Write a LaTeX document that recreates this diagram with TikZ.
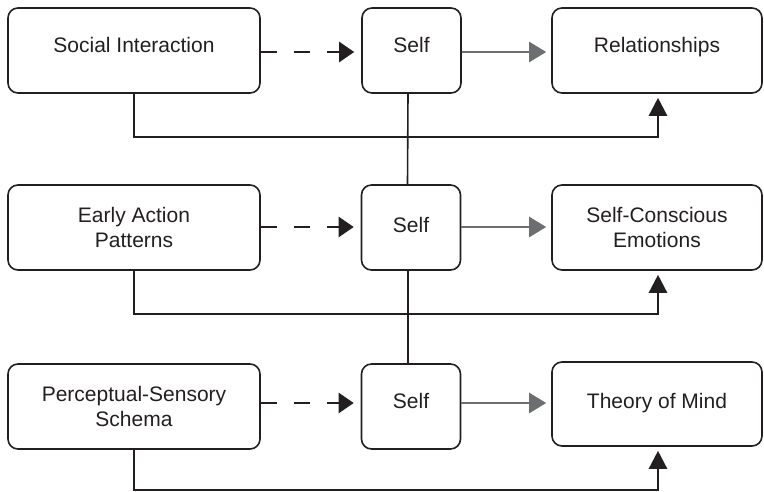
\documentclass[tikz,border=0pt]{standalone}
\usepackage{fontspec}
\setmainfont{Liberation Sans}
\usetikzlibrary{arrows.meta}
\definecolor{ink}{HTML}{231F20}
\definecolor{arrowgray}{HTML}{6D6E71}
\begin{document}
\begin{tikzpicture}[x=1pt,y=-1pt,
  box/.style={draw=ink, line width=1.6pt, rounded corners=10pt, text=ink,
    font=\fontsize{21}{25}\selectfont, inner sep=0pt, minimum height=85pt},
  widebox/.style={box, minimum width=252pt},
  selfbox/.style={box, minimum width=99pt},
  outbox/.style={box, minimum width=210pt},
  oneline/.style={text height=15pt, text depth=#1},
  dasharrow/.style={draw=ink, line width=2.5pt, dash pattern=on 16pt off 17pt,
    -{Triangle[length=15pt,width=20pt]}, shorten >=7pt},
  grayarrow/.style={draw=arrowgray, line width=2.5pt,
    -{Triangle[length=17pt,width=20pt]}, shorten >=5pt},
  uparrow/.style={draw=ink, line width=2.5pt,
    -{Triangle[length=18pt,width=18pt]}, shorten >=4pt},
  selflink/.style={draw=ink, line width=1.6pt}
]
\useasboundingbox (0,0) rectangle (764,492);

% top row
\node[widebox, oneline=10pt] (si) at (134,50.5) {Social Interaction};
\node[selfbox, oneline=10pt] (s1) at (411.5,50.5) {Self};
\node[outbox, oneline=10pt] (rel) at (657,50.5) {Relationships};

% middle row
\node[widebox, align=center] (eap) at (134,227.5) {Early Action\\Patterns};
\node[selfbox, oneline=5pt] (s2) at (411,227.5) {Self};
\node[outbox, align=center] (sce) at (657,227.5) {Self-Conscious\\Emotions};

% bottom row
\node[widebox, align=center] (pss) at (134,406.5) {Perceptual-Sensory\\Schema};
\node[selfbox, oneline=12pt] (s3) at (411,406.5) {Self};
\node[outbox, oneline=7pt, minimum height=84pt] (tom) at (657,404) {Theory of Mind};

% links between the three selves
\draw[selflink] ([xshift=-3.5pt]s1.south) -- ([xshift=-3.5pt]s2.north);
\draw[selflink] ([xshift=-3pt]s2.south) -- ([xshift=-3pt]s3.north);

% direct paths underneath each row
\draw[uparrow] (si.south) -- ++(0,43) -| ([xshift=1pt]rel.south);
\draw[uparrow] (eap.south) -- ++(0,43) -| ([xshift=1pt]sce.south);
\draw[uparrow] (pss.south) -- ++(0,40) -| ([xshift=1pt]tom.south);

% dashed arrows into the selves
\draw[dasharrow] ([yshift=-1.5pt]si.east) coordinate (d1) -- (d1 -| s1.west);
\draw[dasharrow] ([yshift=0.5pt]eap.east) coordinate (d2) -- (d2 -| s2.west);
\draw[dasharrow] ([yshift=3.5pt]pss.east) coordinate (d3) -- (d3 -| s3.west);

% grey arrows out of the selves
\draw[grayarrow] ([yshift=-1.5pt]s1.east) coordinate (g1) -- (g1 -| rel.west);
\draw[grayarrow] ([yshift=0.5pt]s2.east) coordinate (g2) -- (g2 -| sce.west);
\draw[grayarrow] ([yshift=3.5pt]s3.east) coordinate (g3) -- (g3 -| tom.west);
\end{tikzpicture}
\end{document}
